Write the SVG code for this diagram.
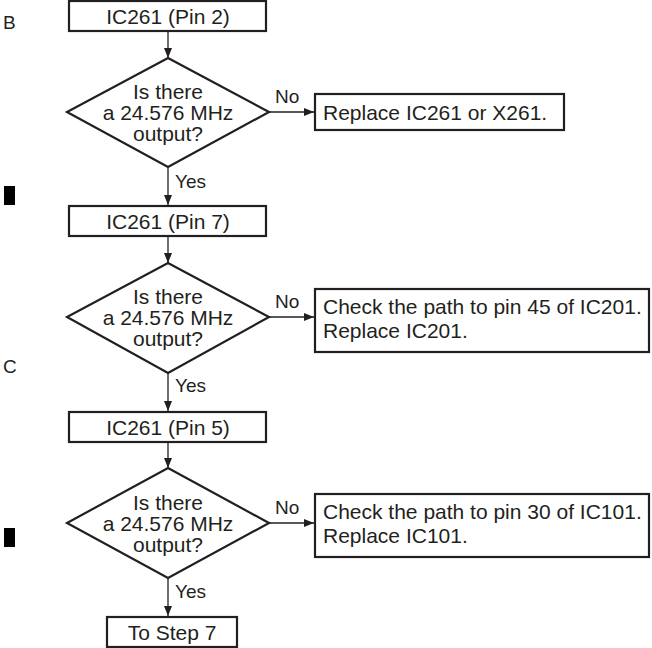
<svg xmlns="http://www.w3.org/2000/svg" width="652" height="648" viewBox="0 0 652 648">
<defs>
<marker id="ah" viewBox="0 0 10 8" refX="10" refY="4" markerWidth="10" markerHeight="8" markerUnits="userSpaceOnUse" orient="auto">
<path d="M0,0 L10,4 L0,8 Z" fill="#231f20"/>
</marker>
</defs>
<style>
.box{fill:#fff;stroke:#231f20;stroke-width:2.2}
.dia{fill:#fff;stroke:#231f20;stroke-width:2.2}
.t{font-family:"Liberation Sans",Arial,sans-serif;font-size:21px;fill:#231f20}
.m{text-anchor:middle}
.lbl{font-family:"Liberation Sans",Arial,sans-serif;font-size:19px;fill:#231f20}
.side{font-family:"Liberation Sans",Arial,sans-serif;font-size:19px;fill:#231f20}
.c{stroke:#231f20;stroke-width:1.3;fill:none;marker-end:url(#ah)}
</style>
<rect width="652" height="648" fill="#fff"/>
<g id="side-marks">
<text class="side" x="3" y="29">B</text>
<rect x="4" y="186" width="11" height="19" fill="#000"/>
<text class="side" x="3" y="373">C</text>
<rect x="4" y="528" width="11" height="19" fill="#000"/>
</g>
<g id="connectors">
<line class="c" x1="168" y1="32" x2="168" y2="58"/>
<line class="c" x1="269" y1="112" x2="314" y2="112"/>
<line class="c" x1="168" y1="167" x2="168" y2="205"/>
<line class="c" x1="168" y1="237" x2="168" y2="263"/>
<line class="c" x1="269" y1="317" x2="314" y2="317"/>
<line class="c" x1="168" y1="373" x2="168" y2="411"/>
<line class="c" x1="168" y1="443" x2="168" y2="468"/>
<line class="c" x1="269" y1="523" x2="314" y2="523"/>
<line class="c" x1="168" y1="578" x2="168" y2="616"/>
<text class="lbl" x="275" y="103">No</text>
<text class="lbl" x="175" y="188">Yes</text>
<text class="lbl" x="275" y="308">No</text>
<text class="lbl" x="175" y="392">Yes</text>
<text class="lbl" x="275" y="514">No</text>
<text class="lbl" x="175" y="598">Yes</text>
</g>
<g id="n1">
<rect class="box" x="69" y="1" width="197" height="30"/>
<text class="t m" x="168" y="24">IC261 (Pin 2)</text>
</g>
<g id="d1">
<polygon class="dia" points="168,58 269,112 168,167 67,112"/>
<text class="t m" x="168" y="99">Is there</text>
<text class="t m" x="168" y="120">a 24.576 MHz</text>
<text class="t m" x="168" y="141">output?</text>
</g>
<g id="r1">
<rect class="box" x="315" y="94" width="249" height="36"/>
<text class="t" x="323" y="120">Replace IC261 or X261.</text>
</g>
<g id="n2">
<rect class="box" x="69" y="206" width="197" height="30"/>
<text class="t m" x="168" y="229">IC261 (Pin 7)</text>
</g>
<g id="d2">
<polygon class="dia" points="168,263 269,317 168,373 67,317"/>
<text class="t m" x="168" y="304">Is there</text>
<text class="t m" x="168" y="325">a 24.576 MHz</text>
<text class="t m" x="168" y="346">output?</text>
</g>
<g id="r2">
<rect class="box" x="315" y="289" width="334" height="63"/>
<text class="t" x="323" y="314">Check the path to pin 45 of IC201.</text>
<text class="t" x="323" y="338">Replace IC201.</text>
</g>
<g id="n3">
<rect class="box" x="69" y="412" width="197" height="30"/>
<text class="t m" x="168" y="435">IC261 (Pin 5)</text>
</g>
<g id="d3">
<polygon class="dia" points="168,468 269,523 168,578 67,523"/>
<text class="t m" x="168" y="510">Is there</text>
<text class="t m" x="168" y="531">a 24.576 MHz</text>
<text class="t m" x="168" y="552">output?</text>
</g>
<g id="r3">
<rect class="box" x="315" y="494" width="334" height="63"/>
<text class="t" x="323" y="519">Check the path to pin 30 of IC101.</text>
<text class="t" x="323" y="543">Replace IC101.</text>
</g>
<g id="n4">
<rect class="box" x="107" y="617" width="130" height="30"/>
<text class="t m" x="172" y="640">To Step 7</text>
</g>
</svg>
